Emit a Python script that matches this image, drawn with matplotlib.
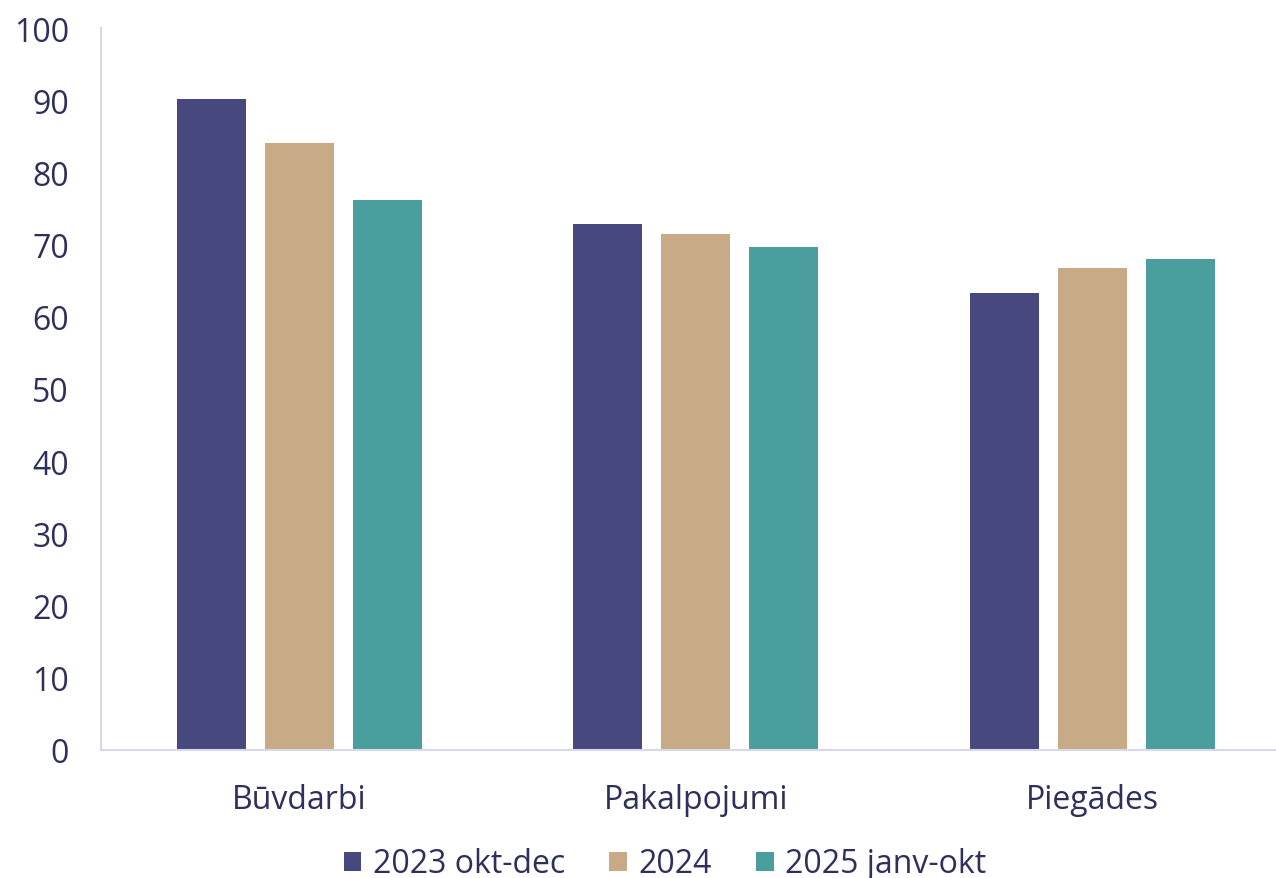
import matplotlib
matplotlib.use("Agg")
import matplotlib.pyplot as plt
import numpy as np

categories = ["Būvdarbi", "Pakalpojumi", "Piegādes"]
series_names = ["2023 okt-dec", "2024", "2025 janv-okt"]
v2023 = [90.1, 72.8, 63.3]
v2024 = [84.1, 71.4, 66.8]
v2025 = [76.2, 69.6, 68.0]
colors = ["#46487e", "#c9aa86", "#4a9e9e"]
text_color = "#2e2f5b"
axis_color = "#d8d8ec"

plt.rcParams['font.family'] = ['Open Sans', 'DejaVu Sans']

fig = plt.figure(figsize=(12.76, 8.79), dpi=100)
ax = fig.add_axes([101/1276, 1-751/879, 1-101/1276, (751-29)/879])

x = np.arange(len(categories))
width = 0.174
step = 0.222
for i, (vals, name, c) in enumerate(zip([v2023, v2024, v2025], series_names, colors)):
    ax.bar(x + (i-1)*step, vals, width, color=c, label=name, zorder=2)

ax.set_ylim(0, 100)
ax.set_xlim(-0.5, 2.463)
ax.set_yticks(range(0, 101, 10))
ax.set_xticks(x)
ax.set_xticklabels(categories)
ax.tick_params(axis='both', length=0, labelsize=23, colors=text_color)
ax.tick_params(axis='y', pad=23)
ax.tick_params(axis='x', pad=24)
for s in ['top', 'right']:
    ax.spines[s].set_visible(False)
for s in ['left', 'bottom']:
    ax.spines[s].set_color(axis_color)
    ax.spines[s].set_linewidth(1.5)

leg = fig.legend(loc='center', bbox_to_anchor=(665/1276, 1-865/879), ncol=3,
                 frameon=False, fontsize=23, handlelength=0.55, handleheight=0.55,
                 handletextpad=0.35, columnspacing=1.4, labelcolor=text_color)

fig.savefig("out.png", dpi=100)
